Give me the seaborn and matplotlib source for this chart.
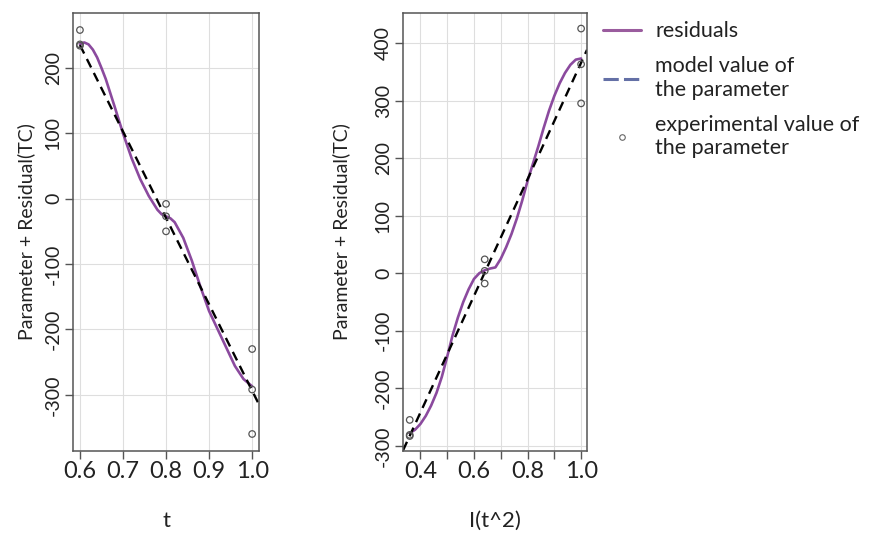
import pandas as pd
import matplotlib
matplotlib.use("Agg")
import matplotlib.pyplot as plt
from matplotlib.lines import Line2D
import seaborn as sns

# Valores
t_pts = [0.6, 0.6, 0.6, 0.8, 0.8, 0.8, 1.0, 1.0, 1.0]
t_obs = [258, 236, 234, -8, -27, -50, -230, -292, -360]

t_curve = [0.600, 0.605, 0.610, 0.620, 0.630, 0.640, 0.650, 0.660, 0.680,
           0.700, 0.720, 0.740, 0.760, 0.780, 0.790, 0.800, 0.810, 0.820,
           0.840, 0.860, 0.880, 0.900, 0.920, 0.940, 0.960, 0.980, 1.000]
t_resid = [236, 238, 239, 236, 228, 216, 200, 183, 142,
           100, 62, 30, 4, -17, -24, -27, -30, -36,
           -60, -95, -135, -172, -200, -228, -256, -276, -287]

t_line = [0.6, 1.016]
t_model = [235, -315]

t2_pts = [0.36, 0.36, 0.36, 0.64, 0.64, 0.64, 1.0, 1.0, 1.0]
t2_obs = [-255, -281, -283, 24, 4, -18, 425, 363, 295]

t2_curve = [0.36, 0.38, 0.40, 0.42, 0.44, 0.46, 0.48, 0.50, 0.52, 0.54,
            0.56, 0.58, 0.60, 0.62, 0.64, 0.66, 0.68, 0.70, 0.72, 0.74,
            0.76, 0.78, 0.80, 0.82, 0.84, 0.86, 0.88, 0.90, 0.92, 0.94,
            0.96, 0.98, 1.00]
t2_resid = [-278, -272, -262, -248, -230, -208, -180, -145, -108, -77,
            -50, -28, -10, 0, 5, 8, 10, 25, 45, 68,
            95, 126, 160, 190, 220, 252, 282, 308, 330, 348,
            362, 371, 373]

t2_line = [0.335, 1.022]
t2_model = [-308, 388]

legend_labels = ["residuals", "model value of\nthe parameter",
                 "experimental value of\nthe parameter"]

sns.set_style("whitegrid")
plt.rcParams['font.family'] = ['Lato', 'DejaVu Sans']
plt.rcParams['axes.unicode_minus'] = False

roxo = "#8b4a9e"
cinza = "#555555"

fig = plt.figure(figsize=(8.79, 5.36), dpi=100)
ax1 = fig.add_axes([0.0831, 0.1586, 0.2116, 0.8171])
ax2 = fig.add_axes([0.4585, 0.1586, 0.2093, 0.8171])

paineis = [
    (ax1, t_pts, t_obs, t_curve, t_resid, t_line, t_model, "t",
     (0.584, 1.016), (-386, 284), [0.6, 0.7, 0.8, 0.9, 1.0],
     ["0.6", "0.7", "0.8", "0.9", "1.0"], [-300, -200, -100, 0, 100, 200], 7),
    (ax2, t2_pts, t2_obs, t2_curve, t2_resid, t2_line, t2_model, "I(t^2)",
     (0.335, 1.022), (-309, 452), [0.4, 0.5, 0.6, 0.7, 0.8, 0.9, 1.0],
     ["0.4", "", "0.6", "", "0.8", "", "1.0"],
     [-300, -200, -100, 0, 100, 200, 300, 400], 18),
]

for ax, xp, yp, xc, yc, xl, yl, xlabel, xlim, ylim, xt, xtl, yt, ypad in paineis:
    # curva dos resíduos
    sns.lineplot(x=xc, y=yc, ax=ax, color=roxo, lw=1.9, sort=False)
    # valor do modelo (tracejado)
    sns.lineplot(x=xl, y=yl, ax=ax, color="black", lw=1.7,
                 linestyle=(0, (4, 2.6)))
    # valores experimentais
    sns.scatterplot(x=xp, y=yp, ax=ax, s=22, marker="o",
                    facecolor="none", edgecolor="#555555", linewidth=0.9,
                    zorder=5)

    ax.set_xlim(*xlim)
    ax.set_ylim(*ylim)
    ax.set_xticks(xt)
    ax.set_xticklabels(xtl)
    ax.set_yticks(yt)
    ax.grid(True, color="#dedede", lw=0.8)
    ax.tick_params(axis='x', labelsize=17, length=6, width=1.0,
                   color=cinza, pad=1, bottom=True, labelcolor="#222222")
    ax.tick_params(axis='y', labelsize=14, length=6, width=1.0,
                   color=cinza, pad=2, left=True, labelrotation=90,
                   labelcolor="#222222")
    for lbl in ax.get_yticklabels():
        lbl.set_verticalalignment("center")
    for axis in ['top', 'right', 'bottom', 'left']:
        ax.spines[axis].set_color(cinza)
        ax.spines[axis].set_linewidth(1.1)
    ax.set_xlabel(xlabel, fontsize=16, labelpad=21, color="#222222")
    ax.set_ylabel("Parameter + Residual(TC)", fontsize=14, labelpad=ypad,
                  color="#222222")

handles = [
    Line2D([], [], color="#9a5c9e", lw=2.2),
    Line2D([], [], color="#6470a6", lw=2.2, linestyle=(0, (5, 1.7))),
    Line2D([], [], color="#666666", lw=0, marker="o", markersize=4,
           markerfacecolor="none", markeredgewidth=0.8),
]
fig.legend(handles, legend_labels, loc="upper left",
           bbox_to_anchor=(584 / 879, 1 - 2 / 536), frameon=False,
           fontsize=15.5, handlelength=1.75, handletextpad=0.65,
           labelspacing=0.7, labelcolor="#222222")

fig.savefig("out.png", dpi=100)
